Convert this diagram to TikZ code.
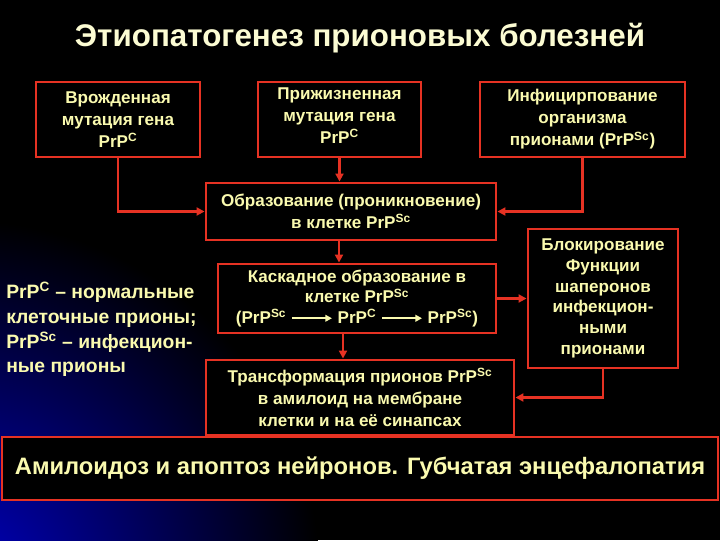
\documentclass[tikz,border=0pt]{standalone}
\usepackage{fontspec}
\setmainfont{Liberation Sans}
\usetikzlibrary{arrows.meta}
\definecolor{tx}{RGB}{250,250,175}
\definecolor{rd}{RGB}{230,50,35}
\newcommand{\prp}[1]{PrP\textsuperscript{#1}}
\newcommand{\yarr}{\tikz[baseline=-0.6ex]\draw[tx,line width=1.4pt,-{Triangle[length=5pt,width=5pt]}] (0,0)--(30pt,0);}
\begin{document}
\begin{tikzpicture}[x=0.75pt,y=-0.75pt,
  box/.style={draw=rd,line width=2.2pt,fill=black,text=tx,font=\bfseries\fontsize{12.8}{16.5}\selectfont,align=center,inner sep=0pt},
  con/.style={draw=rd,line width=2pt,-{Triangle[length=6pt,width=6pt]}}]
\fill[black] (0,0) rectangle (720,540);
\begin{scope}
\clip (0,0) rectangle (720,540);
\shade[inner color=blue!75!black,outer color=black] (-40,580) circle (360);
\end{scope}
\useasboundingbox (0,0) rectangle (720,540);
\node (title) [font=\bfseries\fontsize{23.5}{26}\selectfont,text=tx!55!white] at (360,38) {Этиопатогенез прионовых болезней};
\node (b1) [box,minimum width=164*0.75pt,minimum height=75*0.75pt] at (118,119.5) {Врожденная\\мутация гена\\\prp{C}};
\node (b2) [box,minimum width=163*0.75pt,minimum height=75*0.75pt,
  label={[text=tx,font=\bfseries\fontsize{12.8}{16.5}\selectfont,align=center,yshift=3pt]center:Прижизненная\\мутация гена\\\prp{C}}] at (339.5,119.5) {};
\node (b3) [box,minimum width=205*0.75pt,minimum height=75*0.75pt] at (582.5,119.5) {Инфицирпование\\организма\\прионами (\prp{Sc})};
\node (ob) [box,minimum width=290*0.75pt,minimum height=57*0.75pt] at (351,211.5) {Образование (проникновение)\\в клетке \prp{Sc}};
\node (ka) [box,minimum width=278*0.75pt,minimum height=69*0.75pt,font=\bfseries\fontsize{12.8}{15.5}\selectfont] at (357,298.5) {Каскадное образование в\\клетке \prp{Sc}\\(\prp{Sc} \yarr\ \prp{C} \yarr\ \prp{Sc})};
\node (tr) [box,minimum width=308*0.75pt,minimum height=75*0.75pt] at (360,397.5) {Трансформация прионов \prp{Sc}\\в амилоид на мембране\\клетки и на её синапсах};
\node (bl) [box,minimum width=150*0.75pt,minimum height=139*0.75pt,font=\bfseries\fontsize{12.8}{15.5}\selectfont] at (603,298.5) {Блокирование\\Функции\\шаперонов\\инфекцион-\\ными\\прионами};
\node (am) [box,minimum width=716*0.75pt,minimum height=63*0.75pt,font=\bfseries\fontsize{17.8}{20}\selectfont] at (360,468.5) {Амилоидоз и апоптоз нейронов. Губчатая энцефалопатия};
\node (lt) [anchor=north west,align=left,text=tx,font=\bfseries\fontsize{14.5}{18.5}\selectfont,inner sep=0pt] at (6,282) {\prp{C} – нормальные\\клеточные прионы;\\\prp{Sc} – инфекцион-\\ные прионы};
\draw[con] (b1.south) |- (ob.west);
\draw[con] (b2.south) -- (b2.south|-ob.north);
\draw[con] (b3.south) |- (ob.east);
\draw[con] (ob.south-|339,0) -- (ka.north-|339,0);
\draw[con] (ka.east) -- (bl.west);
\draw[con] (ka.south-|343,0) -- (tr.north-|343,0);
\draw[con] (bl.south) |- (tr.east);
\draw[draw=rd,line width=2pt] (tr.south-|350,0) -- (am.north-|350,0);
\end{tikzpicture}
\end{document}
